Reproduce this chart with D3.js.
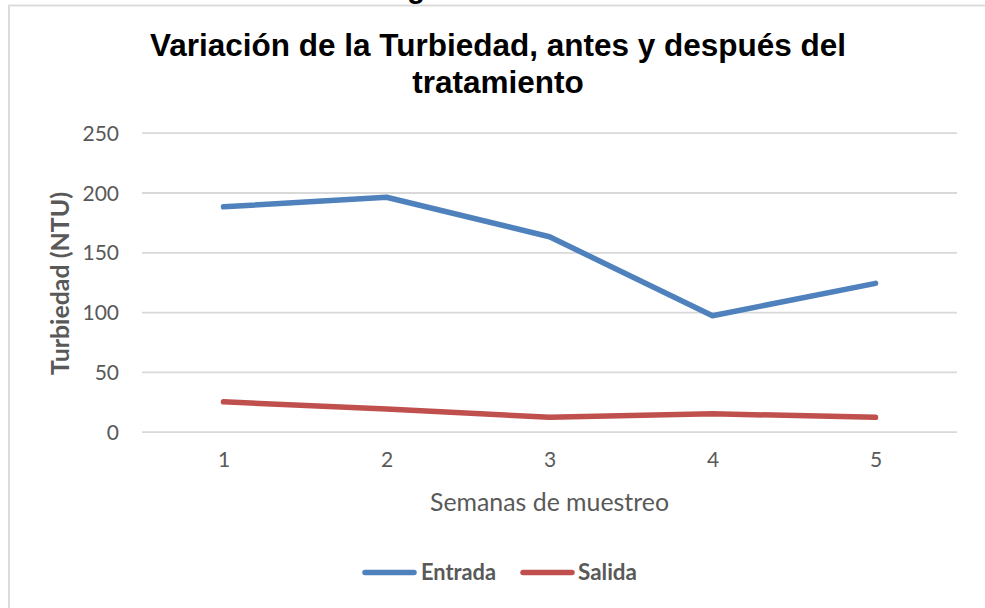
<!DOCTYPE html>
<html>
<head>
<meta charset="utf-8">
<script src="https://cdn.jsdelivr.net/npm/d3@7"></script>
<style>
  html, body { margin: 0; padding: 0; background: #fff; }
  svg { display: block; }
</style>
</head>
<body>
<svg id="chart" width="985" height="608"></svg>
<script>
// ---- data ----
const semanas = [1, 2, 3, 4, 5];
const entrada = [188, 196, 163, 97, 124];
const salida = [25, 19, 12, 15, 12];
const yTicks = [0, 50, 100, 150, 200, 250];
const seriesNames = ["Entrada", "Salida"];
const titleLines = ["Variación de la Turbiedad, antes y después del", "tratamiento"];
const xAxisTitle = "Semanas de muestreo";
const yAxisTitle = "Turbiedad (NTU)";

const colors = { Entrada: "#4F81BD", Salida: "#C0504D" };
const series = [
  { name: seriesNames[0], values: entrada },
  { name: seriesNames[1], values: salida }
];

const svg = d3.select("#chart");
const W = 985, H = 608;
const margin = { left: 142, right: 28, top: 132, bottom: 176 };

// chart-area border
svg.append("rect")
  .attr("x", 9).attr("y", 5.5)
  .attr("width", W + 20).attr("height", H + 20)
  .attr("fill", "#fff").attr("stroke", "#d9d9d9").attr("stroke-width", 1.8);

// partially visible caption above the chart
svg.append("text")
  .attr("x", 416).attr("y", -2.5)
  .attr("text-anchor", "middle")
  .style("font-family", "'Liberation Sans', Arial, sans-serif")
  .style("font-weight", "bold").style("font-size", "29px")
  .attr("fill", "#000")
  .text("g");

const x = d3.scalePoint()
  .domain(semanas)
  .range([margin.left, W - margin.right + 0])
  .padding(0.5);

const y = d3.scaleLinear()
  .domain([0, 250])
  .range([431.7, 132.7]);

// gridlines
const yAxisG = svg.append("g")
  .attr("transform", `translate(${margin.left},0)`)
  .call(d3.axisLeft(y).tickValues(yTicks).tickSize(-(W - margin.right - margin.left + 0)).tickFormat(d3.format("d")).tickPadding(23));
yAxisG.select(".domain").remove();
yAxisG.selectAll(".tick line").attr("stroke", "#d9d9d9").attr("stroke-width", 1.8);
yAxisG.selectAll(".tick text")
  .attr("fill", "#595959")
  .style("font-family", "Lato, 'Open Sans', sans-serif")
  .style("font-size", "21px")
  .attr("dy", "0.36em");

// x axis labels
const xAxisG = svg.append("g")
  .attr("transform", `translate(0,${y(0)})`)
  .call(d3.axisBottom(x).tickSize(0).tickPadding(24));
xAxisG.select(".domain").remove();
xAxisG.selectAll(".tick text")
  .attr("fill", "#595959")
  .style("font-family", "Lato, 'Open Sans', sans-serif")
  .style("font-size", "21px")
  .attr("dy", "0.55em");

// lines
const line = d3.line()
  .x((d, i) => x(semanas[i]))
  .y(d => y(d));

svg.selectAll("path.series")
  .data(series)
  .enter().append("path")
  .attr("class", "series")
  .attr("d", d => line(d.values))
  .attr("fill", "none")
  .attr("stroke", d => colors[d.name])
  .attr("stroke-width", 5.5)
  .attr("stroke-linejoin", "round")
  .attr("stroke-linecap", "round");

// title
const title = svg.append("g");
title.selectAll("text")
  .data(titleLines)
  .enter().append("text")
  .attr("x", 498)
  .attr("y", (d, i) => 56 + i * 37)
  .attr("text-anchor", "middle")
  .style("font-family", "'Liberation Sans', Arial, sans-serif")
  .style("font-weight", "bold")
  .style("font-size", "31.5px")
  .attr("fill", "#000")
  .text(d => d);

// x axis title
svg.append("text")
  .attr("x", 549.5).attr("y", 511)
  .attr("text-anchor", "middle")
  .attr("textLength", 239).attr("lengthAdjust", "spacingAndGlyphs")
  .style("font-family", "Lato, 'Open Sans', sans-serif")
  .style("font-size", "25px")
  .attr("fill", "#595959")
  .text(xAxisTitle);

// y axis title
svg.append("text")
  .attr("transform", `translate(68.5,283.5) rotate(-90)`)
  .attr("text-anchor", "middle")
  .attr("textLength", 183).attr("lengthAdjust", "spacingAndGlyphs")
  .style("font-family", "Lato, 'Open Sans', sans-serif")
  .style("font-weight", "bold")
  .style("font-size", "24px")
  .attr("fill", "#595959")
  .text(yAxisTitle);

// legend
const legendItems = [
  { name: seriesNames[0], x0: 365, textX: 421, textLen: 75 },
  { name: seriesNames[1], x0: 523, textX: 578, textLen: 59 }
];
const lg = svg.append("g");
legendItems.forEach(it => {
  lg.append("line")
    .attr("x1", it.x0).attr("x2", it.x0 + 49)
    .attr("y1", 572.5).attr("y2", 572.5)
    .attr("stroke", colors[it.name])
    .attr("stroke-width", 5.5)
    .attr("stroke-linecap", "round");
  lg.append("text")
    .attr("x", it.textX).attr("y", 580)
    .attr("textLength", it.textLen).attr("lengthAdjust", "spacingAndGlyphs")
    .style("font-family", "Lato, 'Open Sans', sans-serif")
    .style("font-weight", "bold")
    .style("font-size", "22px")
    .attr("fill", "#595959")
    .text(it.name);
});
</script>
</body>
</html>
